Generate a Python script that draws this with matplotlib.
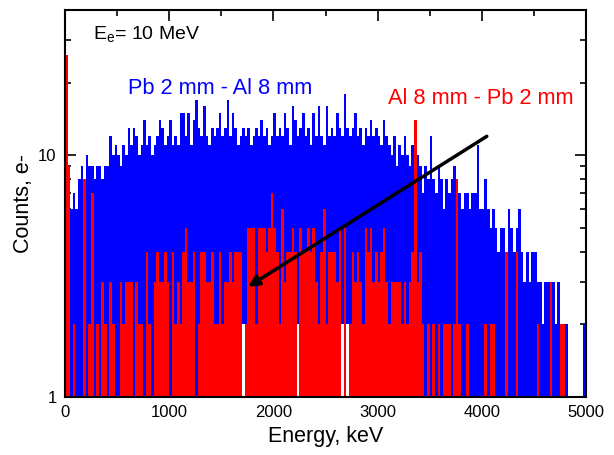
import numpy as np
import matplotlib
matplotlib.use("Agg")
import matplotlib.pyplot as plt
from matplotlib.ticker import FixedLocator, NullFormatter, FixedFormatter

plt.rcParams['font.family'] = ['Liberation Sans', 'DejaVu Sans']
plt.rcParams['mathtext.fontset'] = 'custom'
plt.rcParams['mathtext.rm'] = 'Liberation Sans'
plt.rcParams['mathtext.it'] = 'Liberation Sans:italic'

# ---------------- data (25 keV bins, 0 - 5000 keV) ----------------
bin_width = 25
bin_edges_start = np.arange(0, 5000, bin_width)

# Pb 2 mm - Al 8 mm : upper extent of counts in each bin
blue_hi = [
    13, 7, 6, 7, 6, 8, 9, 7, 10, 9, 9, 8, 9, 9, 8, 9, 9, 12, 10, 11,
    10, 9, 11, 10, 13, 11, 13, 12, 10, 11, 14, 11, 12, 10, 11, 12, 14, 13, 11, 12,
    14, 11, 12, 11, 15, 15, 12, 15, 11, 14, 17, 13, 12, 16, 12, 11, 13, 12, 13, 15,
    12, 13, 17, 12, 15, 13, 11, 12, 13, 12, 13, 11, 12, 13, 12, 14, 12, 13, 11, 12,
    15, 12, 13, 12, 15, 13, 11, 16, 14, 12, 13, 15, 12, 13, 11, 15, 12, 16, 12, 11,
    16, 12, 13, 12, 15, 13, 12, 18, 13, 12, 13, 15, 12, 13, 11, 13, 12, 14, 12, 13,
    12, 11, 14, 12, 11, 10, 12, 9, 11, 10, 12, 10, 9, 11, 8, 10, 9, 7, 9, 8,
    12, 8, 7, 9, 8, 6, 8, 7, 8, 9, 7, 7, 6, 7, 7, 6, 7, 7, 11, 6,
    6, 8, 6, 5, 6, 5, 4, 5, 5, 4, 6, 5, 4, 5, 6, 4, 3, 4, 3, 4,
    4, 3, 3, 2, 3, 3, 2, 3, 2, 3, 2, 2, 2, 1, 1, 1, 1, 1, 1, 2,
]
# Pb 2 mm - Al 8 mm : lower extent of counts in each bin
blue_lo = [1] * 55 + [2] * 80 + [1] * 65

# Al 8 mm - Pb 2 mm : counts in each bin
red_hi = [
    26, 9, 1, 2, 1, 1, 1, 8, 1, 2, 7, 1, 2, 1, 3, 2, 1, 3, 2, 1,
    1, 3, 2, 3, 3, 3, 1, 3, 2, 2, 1, 4, 2, 1, 3, 4, 3, 3, 4, 3,
    1, 4, 2, 3, 2, 4, 5, 3, 3, 4, 1, 2, 4, 4, 3, 3, 4, 2, 2, 4,
    2, 3, 3, 4, 3, 4, 4, 4, 1, 2, 5, 5, 5, 2, 5, 5, 5, 4, 5, 7,
    5, 4, 2, 6, 3, 4, 4, 5, 4, 1, 5, 4, 4, 5, 4, 5, 3, 2, 4, 6,
    2, 4, 4, 4, 3, 5, 1, 5, 1, 2, 4, 3, 4, 3, 2, 5, 4, 5, 3, 4,
    3, 4, 5, 3, 2, 3, 3, 3, 3, 2, 3, 2, 3, 4, 14, 3, 4, 2, 1, 2,
    1, 2, 1, 2, 1, 2, 2, 2, 1, 2, 8, 2, 1, 1, 2, 1, 1, 1, 1, 1,
    1, 2, 1, 2, 2, 1, 1, 1, 1, 4, 1, 1, 1, 4, 1, 1, 1, 1, 1, 1,
    1, 2, 1, 1, 1, 1, 3, 1, 1, 1, 2, 2, 1, 1, 1, 1, 1, 1, 1, 1,
]

x_ticks = [0, 1000, 2000, 3000, 4000, 5000]
y_tick_vals = [1, 10]
y_tick_labels = ["1", "10"]

arrow_tail = (4048, 12.0)
arrow_head = (1757, 2.86)

# ---------------- figure ----------------
fig = plt.figure(figsize=(6.14, 4.55), dpi=100)
ax = fig.add_axes([0.1059, 0.1275, 0.8485, 0.8505])
ax.set_yscale('log')

bh = np.array(blue_hi, dtype=float)
bl = np.array(blue_lo, dtype=float)
rh = np.array(red_hi, dtype=float)

ax.bar(bin_edges_start, bh - bl, bottom=bl, width=bin_width, align='edge',
       color='#0000ff', linewidth=0, antialiased=False, zorder=2)
ax.bar(bin_edges_start, rh - 1, bottom=1, width=bin_width, align='edge',
       color='#ff0000', linewidth=0, antialiased=False, zorder=3)

ax.annotate('', xy=arrow_head, xytext=arrow_tail,
            arrowprops=dict(arrowstyle='-|>', color='black', lw=2.5,
                            mutation_scale=16, shrinkA=0, shrinkB=0),
            zorder=5)

ax.text(269, 30.2, r'E$_{\mathrm{e}}$= 10 MeV', fontsize=14, color='black',
        va='baseline', ha='left', zorder=6)
ax.text(605, 18.0, 'Pb 2 mm - Al 8 mm', fontsize=15.7, color='#0000ff',
        va='baseline', ha='left', zorder=6)
ax.text(3101, 16.4, 'Al 8 mm - Pb 2 mm', fontsize=15.7, color='#ff0000',
        va='baseline', ha='left', zorder=6)

ax.set_xlim(0, 5000)
ax.set_ylim(1, 40)

ax.xaxis.set_major_locator(FixedLocator(x_ticks))
ax.xaxis.set_minor_locator(FixedLocator(np.arange(500, 5000, 1000)))
ax.yaxis.set_major_locator(FixedLocator(y_tick_vals))
ax.yaxis.set_major_formatter(FixedFormatter(y_tick_labels))
ax.yaxis.set_minor_locator(FixedLocator([2, 3, 4, 5, 6, 7, 8, 9, 20, 30, 40]))
ax.yaxis.set_minor_formatter(NullFormatter())

ax.tick_params(which='both', direction='in', top=True, right=True,
               labelsize=12, width=1.2, pad=6)
ax.tick_params(which='major', length=8)
ax.tick_params(which='minor', length=4)
for sp in ax.spines.values():
    sp.set_linewidth(1.5)
    sp.set_zorder(10)

ax.set_xlabel('Energy, keV', fontsize=15.5, labelpad=4)
ax.set_ylabel('Counts, e-', fontsize=15.5, labelpad=3)

fig.savefig('out.png', dpi=100)
